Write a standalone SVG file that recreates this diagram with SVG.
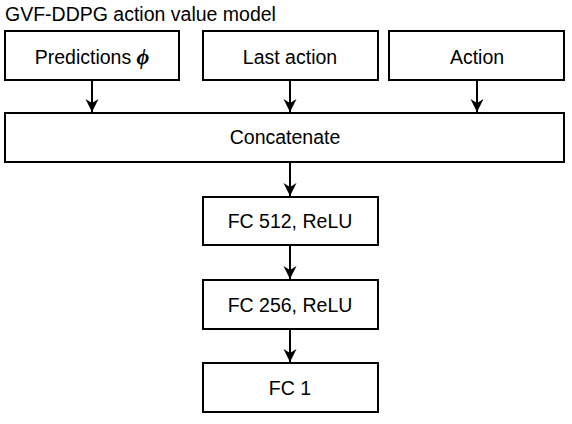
<svg xmlns="http://www.w3.org/2000/svg" width="572" height="424" viewBox="0 0 572 424">
<style>
.box{fill:#fff;stroke:#000;stroke-width:2}
.t{font-family:"Liberation Sans",Arial,sans-serif;font-size:19.5px;fill:#000;text-anchor:middle}
.c{stroke:#000;stroke-width:2;fill:none}
</style>
<defs>
<marker id="ah" markerWidth="14" markerHeight="14" refX="13" refY="6.5" orient="auto" markerUnits="userSpaceOnUse">
<path d="M0,0 L13,6.5 L0,13 L4,6.5 Z" fill="#000"/>
</marker>
</defs>
<rect width="572" height="424" fill="#fff"/>
<text x="5" y="21" font-family="Liberation Sans,Arial,sans-serif" font-size="19.5">GVF-DDPG action value model</text>
<g id="connectors">
<line class="c" x1="92" y1="80" x2="92" y2="112" marker-end="url(#ah)"/>
<line class="c" x1="290" y1="80" x2="290" y2="112" marker-end="url(#ah)"/>
<line class="c" x1="477" y1="80" x2="477" y2="112" marker-end="url(#ah)"/>
<line class="c" x1="290" y1="162" x2="290" y2="196" marker-end="url(#ah)"/>
<line class="c" x1="290" y1="245" x2="290" y2="279" marker-end="url(#ah)"/>
<line class="c" x1="290" y1="329" x2="290" y2="362" marker-end="url(#ah)"/>
</g>
<g id="predictions">
<rect class="box" x="5" y="31" width="174" height="49"/>
<text class="t" x="92" y="64">Predictions <tspan font-family="Liberation Serif,serif" font-weight="bold" font-style="italic" font-size="22">ϕ</tspan></text>
</g>
<g id="last-action">
<rect class="box" x="203" y="31" width="175" height="49"/>
<text class="t" x="290" y="64">Last action</text>
</g>
<g id="action">
<rect class="box" x="389" y="31" width="175" height="49"/>
<text class="t" x="477" y="64">Action</text>
</g>
<g id="concatenate">
<rect class="box" x="5" y="113" width="559" height="49"/>
<text class="t" x="285" y="144">Concatenate</text>
</g>
<g id="fc512">
<rect class="box" x="203" y="197" width="175" height="48"/>
<text class="t" x="290" y="228">FC 512, ReLU</text>
</g>
<g id="fc256">
<rect class="box" x="203" y="280" width="175" height="49"/>
<text class="t" x="290" y="312">FC 256, ReLU</text>
</g>
<g id="fc1">
<rect class="box" x="203" y="363" width="175" height="49"/>
<text class="t" x="290" y="395">FC 1</text>
</g>
</svg>
